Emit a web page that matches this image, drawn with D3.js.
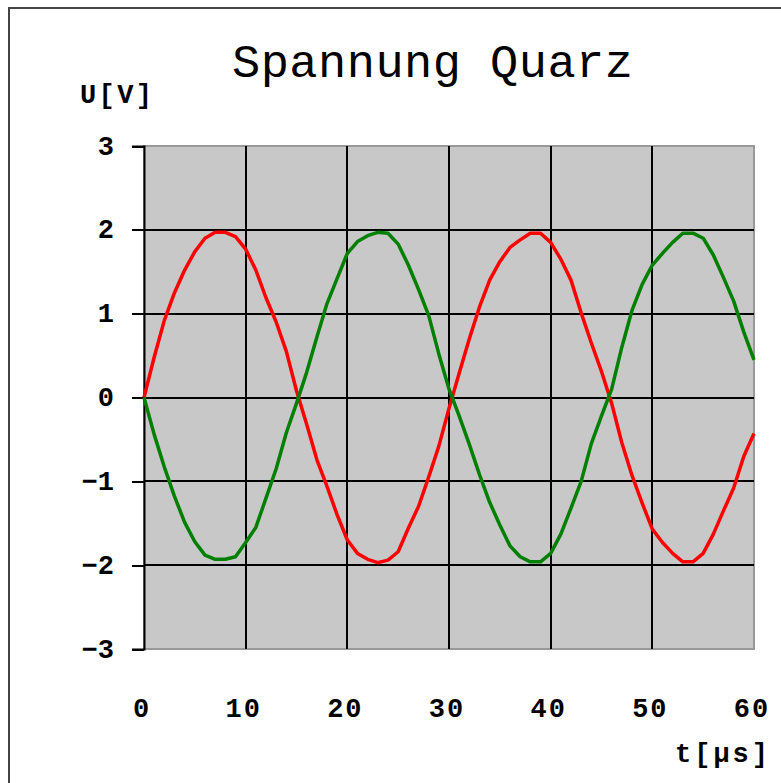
<!DOCTYPE html>
<html lang="de">
<head>
    <meta charset="UTF-8">
    <title>Spannung Quarz</title>
    <script src="https://d3js.org/d3.v7.min.js"></script>
    <style>
        body { margin: 0; background: #fff; }
        text { font-family: "Liberation Mono", "DejaVu Sans Mono", monospace; fill: #000; }
        .tick-label { font-size: 27px; font-weight: bold; }
        .axis-title { font-size: 27px; font-weight: bold; }
        .title { font-size: 47px; }
    </style>
</head>
<body>
    <svg id="chart" width="781" height="783"></svg>
    <script>
        // time in µs, one reading per microsecond
        const times = d3.range(0, 61);
        // red trace, U in V
        const redValues = [
            0.00, 0.48, 0.92, 1.25, 1.52, 1.74, 1.90, 1.97, 1.97, 1.92,
            1.77, 1.52, 1.19, 0.90, 0.55, 0.08, -0.32, -0.74, -1.06, -1.40,
            -1.70, -1.86, -1.93, -1.97, -1.94, -1.84, -1.56, -1.30, -0.95, -0.58,
            -0.13, 0.29, 0.70, 1.08, 1.40, 1.62, 1.79, 1.88, 1.96, 1.96,
            1.85, 1.65, 1.40, 1.01, 0.65, 0.31, -0.07, -0.54, -0.93, -1.26,
            -1.57, -1.73, -1.86, -1.96, -1.96, -1.86, -1.63, -1.35, -1.08, -0.70,
            -0.43
        ];
        // green trace, U in V
        const greenValues = [
            0.00, -0.44, -0.83, -1.18, -1.49, -1.72, -1.88, -1.93, -1.93, -1.90,
            -1.73, -1.55, -1.20, -0.85, -0.42, -0.07, 0.30, 0.72, 1.12, 1.42,
            1.72, 1.86, 1.93, 1.97, 1.96, 1.83, 1.58, 1.29, 0.98, 0.52,
            0.10, -0.22, -0.56, -0.92, -1.25, -1.52, -1.77, -1.90, -1.96, -1.96,
            -1.86, -1.63, -1.32, -1.00, -0.55, -0.22, 0.10, 0.60, 1.04, 1.35,
            1.58, 1.72, 1.85, 1.96, 1.96, 1.90, 1.70, 1.43, 1.15, 0.78,
            0.45
        ];
        const xTicks = [0, 10, 20, 30, 40, 50, 60];
        const yTicks = [-3, -2, -1, 0, 1, 2, 3];
        const yTickLabels = ["\u22123", "\u22122", "\u22121", "0", "1", "2", "3"];

        const svg = d3.select("#chart");

        // outer frame (only top and left edges are visible)
        svg.append("path")
            .attr("d", "M9,783 V8 H781")
            .attr("fill", "none")
            .attr("stroke", "#444")
            .attr("stroke-width", 2);

        const x = d3.scaleLinear().domain([0, 60]).range([144, 754]);
        const y = d3.scaleLinear().domain([-3, 3]).range([649, 146]);

        // plot background
        svg.append("rect")
            .attr("x", x(0))
            .attr("y", y(3))
            .attr("width", x(60) - x(0))
            .attr("height", y(-3) - y(3))
            .attr("fill", "#c8c8c8")
            .attr("stroke", "#999")
            .attr("stroke-width", 1.5)
            .attr("shape-rendering", "crispEdges");

        // grid lines
        svg.append("g")
            .selectAll("line")
            .data(xTicks.filter(d => d > 0 && d < 60))
            .join("line")
            .attr("x1", d => x(d)).attr("x2", d => x(d))
            .attr("y1", y(3)).attr("y2", y(-3))
            .attr("stroke", "#000")
            .attr("stroke-width", 2)
            .attr("shape-rendering", "crispEdges");

        svg.append("g")
            .selectAll("line")
            .data(yTicks.filter(d => d > -3 && d < 3))
            .join("line")
            .attr("x1", x(0)).attr("x2", x(60))
            .attr("y1", d => y(d)).attr("y2", d => y(d))
            .attr("stroke", "#000")
            .attr("stroke-width", 2)
            .attr("shape-rendering", "crispEdges");

        // y axis with outward ticks
        const yAxis = svg.append("g")
            .attr("transform", `translate(${x(0)},0)`)
            .call(d3.axisLeft(y).tickValues(yTicks).tickSize(12).tickPadding(18)
                .tickFormat((d, i) => yTickLabels[i]));
        yAxis.select(".domain").attr("stroke", "#000").attr("stroke-width", 2);
        yAxis.selectAll(".tick line").attr("stroke", "#000").attr("stroke-width", 2)
            .attr("shape-rendering", "crispEdges");
        yAxis.selectAll(".tick text")
            .attr("class", "tick-label")
            .attr("font-family", null).attr("font-size", null)
            .attr("dy", "0.3em");

        // x tick labels
        svg.append("g")
            .selectAll("text")
            .data(xTicks)
            .join("text")
            .attr("class", "tick-label")
            .attr("x", d => x(d) - 2)
            .attr("y", 717)
            .attr("text-anchor", "middle")
            .attr("letter-spacing", 2)
            .text(d => d);

        // traces
        const line = d3.line()
            .x((d, i) => x(times[i]))
            .y(d => y(d));

        svg.append("path")
            .datum(redValues)
            .attr("d", line)
            .attr("fill", "none")
            .attr("stroke", "#ff0000")
            .attr("stroke-width", 3.5)
            .attr("stroke-linejoin", "round");

        svg.append("path")
            .datum(greenValues)
            .attr("d", line)
            .attr("fill", "none")
            .attr("stroke", "#008000")
            .attr("stroke-width", 3.5)
            .attr("stroke-linejoin", "round");

        // titles
        svg.append("text")
            .attr("class", "title")
            .attr("x", 232)
            .attr("y", 77)
            .attr("textLength", 401)
            .attr("lengthAdjust", "spacing")
            .text("Spannung Quarz");

        svg.append("text")
            .attr("class", "axis-title")
            .attr("x", 80)
            .attr("y", 103)
            .attr("textLength", 72)
            .attr("lengthAdjust", "spacing")
            .text("U[V]");

        svg.append("text")
            .attr("class", "axis-title")
            .attr("x", 675)
            .attr("y", 762)
            .attr("textLength", 93)
            .attr("lengthAdjust", "spacing")
            .text("t[\u00b5s]");
    </script>
</body>
</html>
